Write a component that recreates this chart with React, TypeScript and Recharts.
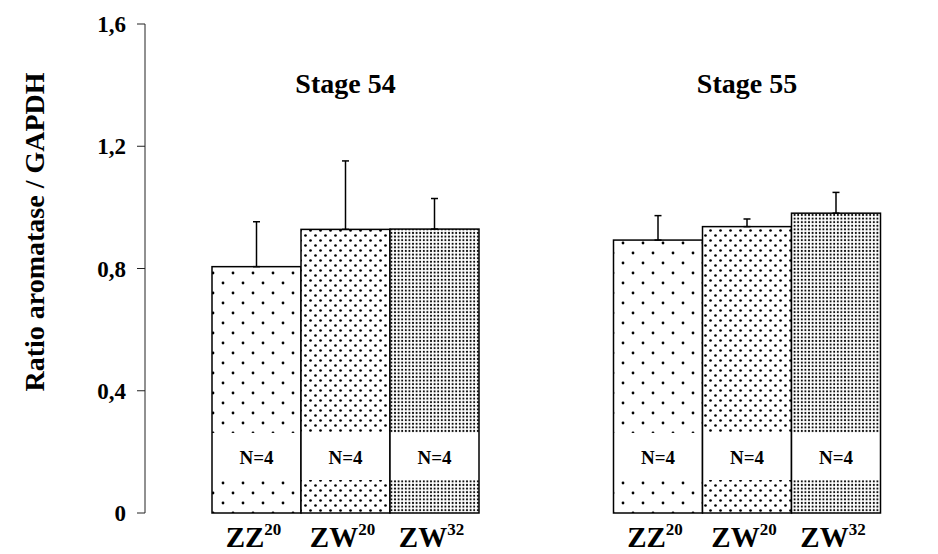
import React from "react";
import { BarChart, Bar, XAxis, YAxis, ErrorBar } from "recharts";

const stages = ["Stage 54", "Stage 55"];
const zz20Values = [0.806, 0.893];
const zw20Values = [0.928, 0.937];
const zw32Values = [0.929, 0.981];
const zz20Errors = [0.147, 0.08];
const zw20Errors = [0.224, 0.025];
const zw32Errors = [0.1, 0.068];
const genotypeMain = ["ZZ", "ZW", "ZW"];
const genotypeSup = ["20", "20", "32"];
const sampleSizes = ["N=4", "N=4", "N=4"];
const yTicks = [0, 0.4, 0.8, 1.2, 1.6];
const yLabel = "Ratio aromatase / GAPDH";
// white band (in data units) behind the N labels
const bandLow = 0.108;
const bandHigh = 0.262;

const data = stages.map((s, i) => ({
  stage: s,
  zz20: zz20Values[i],
  zw20: zw20Values[i],
  zw32: zw32Values[i],
  zz20Err: [0, zz20Errors[i]],
  zw20Err: [0, zw20Errors[i]],
  zw32Err: [0, zw32Errors[i]],
}));

const FONT = "'Liberation Serif', 'Times New Roman', serif";

const makeShape = (key: string, fill: string, gi: number) => (props: any) => {
  const { x, y, width, height, payload } = props;
  const v = payload[key];
  const ppu = height / v;
  const bottom = y + height;
  const bTop = bottom - bandHigh * ppu;
  const bH = (bandHigh - bandLow) * ppu;
  const cx = x + width / 2;
  return (
    <g>
      <rect x={x} y={y} width={width} height={height} fill={fill} />
      <rect x={x} y={bTop} width={width} height={bH} fill="#fff" />
      <rect x={x} y={y} width={width} height={height} fill="none" stroke="#000" strokeWidth={1.5} />
      <text
        x={cx}
        y={bTop + bH / 2 + 1}
        textAnchor="middle"
        dominantBaseline="central"
        fontFamily={FONT}
        fontWeight="bold"
        fontSize={19}
        fill="#000"
      >
        {sampleSizes[gi]}
      </text>
      <text
        x={cx - 3}
        y={bottom + 34}
        textAnchor="middle"
        fontFamily={FONT}
        fontWeight="bold"
        fontSize={29}
        fill="#000"
      >
        {genotypeMain[gi]}
        <tspan fontSize={17} dy={-12}>
          {genotypeSup[gi]}
        </tspan>
      </text>
      {gi === 1 ? (
        <text
          x={cx}
          y={85}
          textAnchor="middle"
          fontFamily={FONT}
          fontWeight="bold"
          fontSize={28}
          fill="#000"
        >
          {payload.stage}
        </text>
      ) : null}
    </g>
  );
};

const YLabel = () => {
  const cx = 26;
  const cy = 224;
  return (
    <text
      x={cx}
      y={cy}
      transform={`rotate(-90 ${cx} ${cy})`}
      textAnchor="middle"
      dominantBaseline="central"
      fontFamily={FONT}
      fontWeight="bold"
      fontSize={28}
      fill="#000"
    >
      {yLabel}
    </text>
  );
};

export default function App() {
  return (
    <div style={{ width: 930, height: 546, overflow: "hidden", position: "relative" }}>
      <svg width={0} height={0} style={{ position: "absolute" }}>
        <defs>
          <pattern id="pSparse" width={20} height={20} patternUnits="userSpaceOnUse">
            <rect width={20} height={20} fill="#fff" />
            <circle cx={5} cy={5} r={1.4} fill="#000" />
            <circle cx={15} cy={15} r={1.4} fill="#000" />
          </pattern>
          <pattern id="pMed" width={10} height={10} patternUnits="userSpaceOnUse">
            <rect width={10} height={10} fill="#fff" />
            <circle cx={2.5} cy={2.5} r={1.35} fill="#000" />
            <circle cx={7.5} cy={7.5} r={1.35} fill="#000" />
          </pattern>
          <pattern id="pDense" width={3.6} height={3.6} patternUnits="userSpaceOnUse">
            <rect width={3.6} height={3.6} fill="#fff" />
            <circle cx={1.8} cy={1.8} r={1.05} fill="#000" />
          </pattern>
        </defs>
      </svg>
      <BarChart
        width={950}
        height={546}
        data={data}
        margin={{ top: 16, right: 10, bottom: 41, left: 0 }}
        barCategoryGap={67}
        barGap={0}
      >
        <XAxis
          dataKey="stage"
          height={0}
          axisLine={{ stroke: "#222", strokeWidth: 1 }}
          tickLine={false}
          tick={false}
        />
        <YAxis
          width={137}
          domain={[0, 1.6]}
          ticks={yTicks}
          interval={0}
          tickFormatter={(v: number) => String(v).replace(".", ",")}
          tick={{ fontFamily: FONT, fontWeight: "bold", fontSize: 23, fill: "#000" }}
          tickSize={8}
          tickMargin={11}
          axisLine={{ stroke: "#222", strokeWidth: 1 }}
          tickLine={{ stroke: "#222", strokeWidth: 1 }}
          label={<YLabel />}
        />
        <Bar dataKey="zz20" isAnimationActive={false} shape={makeShape("zz20", "url(#pSparse)", 0)}>
          <ErrorBar dataKey="zz20Err" width={3.5} stroke="#000" strokeWidth={1.5} direction="y" />
        </Bar>
        <Bar dataKey="zw20" isAnimationActive={false} shape={makeShape("zw20", "url(#pMed)", 1)}>
          <ErrorBar dataKey="zw20Err" width={3.5} stroke="#000" strokeWidth={1.5} direction="y" />
        </Bar>
        <Bar dataKey="zw32" isAnimationActive={false} shape={makeShape("zw32", "url(#pDense)", 2)}>
          <ErrorBar dataKey="zw32Err" width={3.5} stroke="#000" strokeWidth={1.5} direction="y" />
        </Bar>
      </BarChart>
    </div>
  );
}
